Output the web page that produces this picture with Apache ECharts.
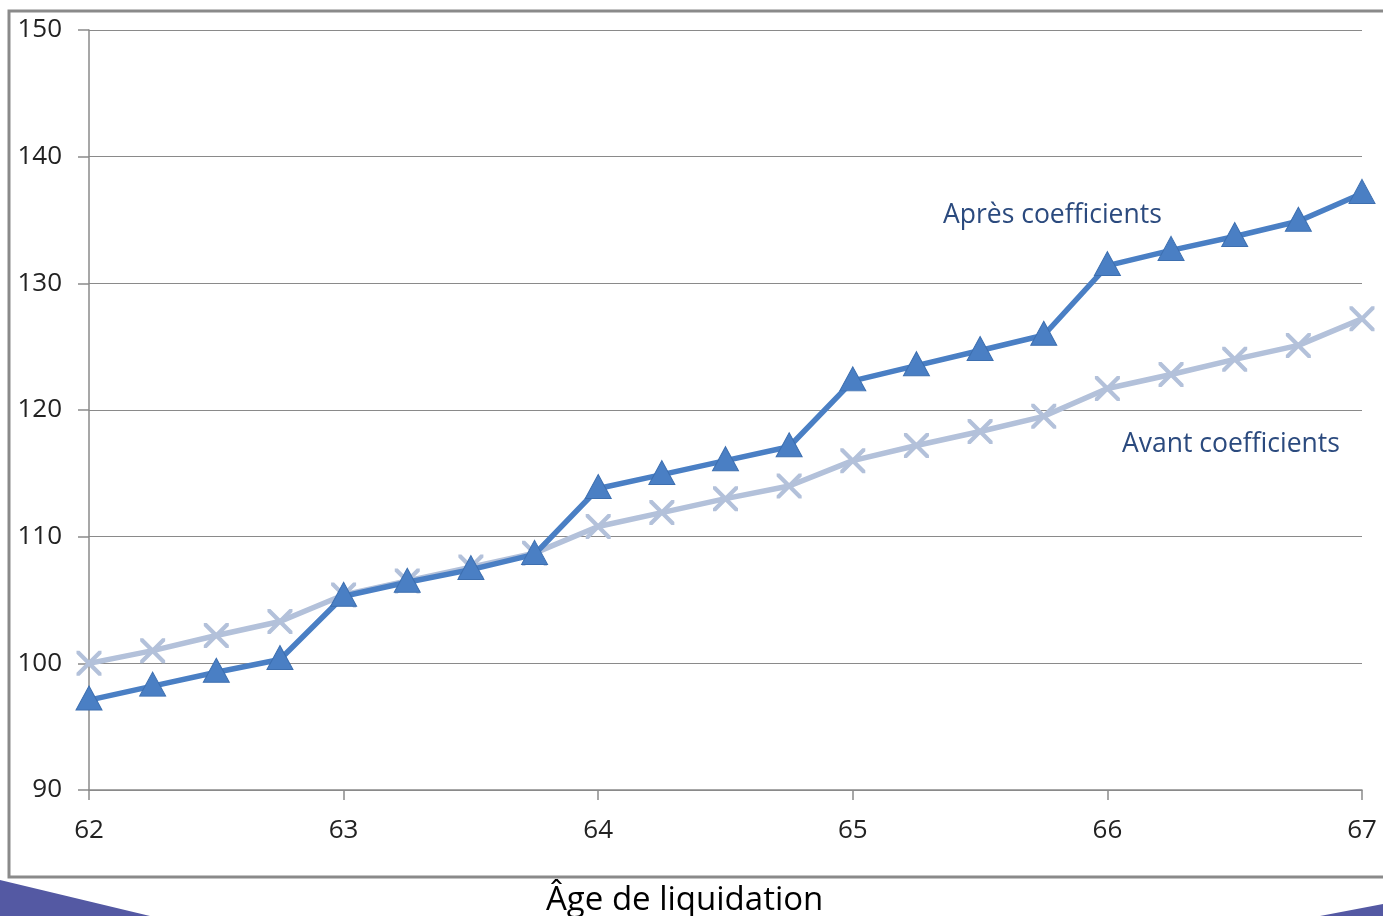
<!DOCTYPE html>
<html>
<head>
<meta charset="utf-8">
<script src="https://cdn.jsdelivr.net/npm/echarts@6/dist/echarts.min.js"></script>
<style>
  html, body { margin: 0; padding: 0; background: #fff; }
  #main { width: 1383px; height: 916px; }
</style>
</head>
<body>
<div id="main"></div>
<script>
// ages (quarterly steps)
var ages = [62, 62.25, 62.5, 62.75, 63, 63.25, 63.5, 63.75, 64, 64.25, 64.5, 64.75,
            65, 65.25, 65.5, 65.75, 66, 66.25, 66.5, 66.75, 67];
// after coefficients
var apres = [97.1, 98.2, 99.3, 100.3, 105.3, 106.4, 107.4, 108.6, 113.8, 114.9, 116.0, 117.1,
             122.3, 123.5, 124.7, 125.9, 131.4, 132.6, 133.7, 134.9, 137.1];
// before coefficients
var avant = [100.0, 101.0, 102.2, 103.3, 105.4, 106.5, 107.6, 108.7, 110.8, 111.9, 113.0, 114.0,
             116.0, 117.2, 118.3, 119.5, 121.7, 122.8, 124.0, 125.1, 127.2];

var xTitle = 'Âge de liquidation';
var nameApres = 'Après coefficients';
var nameAvant = 'Avant coefficients';

function pairs(xs, ys) {
    var list = [];
    for (var i = 0; i < xs.length; i++) {
        list.push([xs[i], ys[i]]);
    }
    return list;
}

var crossPath = 'path://M0,0L1.2,0L5,3.8L8.8,0L10,0L10,1.2L6.2,5L10,8.8L10,10L8.8,10L5,6.2L1.2,10L0,10L0,8.8L3.8,5L0,1.2Z';

var chart = echarts.init(document.getElementById('main'), null, { renderer: 'canvas' });

var option = {
    backgroundColor: '#ffffff',
    animation: false,
    textStyle: { fontFamily: 'Open Sans' },
    grid: { left: 89, right: 21, top: 30, bottom: 126, containLabel: false },
    xAxis: {
        type: 'value',
        min: 62,
        max: 67,
        interval: 1,
        axisLine: { show: true, lineStyle: { color: '#8a8a8a', width: 1.5 } },
        axisTick: { show: true, length: 10, lineStyle: { color: '#8a8a8a', width: 1.5 } },
        axisLabel: { color: '#222', fontSize: 26, margin: 28 },
        splitLine: { show: false }
    },
    yAxis: {
        type: 'value',
        min: 90,
        max: 150,
        interval: 10,
        axisLine: { show: true, lineStyle: { color: '#8a8a8a', width: 1.5 } },
        axisTick: { show: true, length: 11, lineStyle: { color: '#8a8a8a', width: 1.5 } },
        axisLabel: { color: '#222', fontSize: 26, margin: 27 },
        splitLine: { show: true, lineStyle: { color: '#8a8a8a', width: 1.2 } }
    },
    graphic: [
        { type: 'rect', shape: { x: 9, y: 11, width: 1390, height: 866 },
          style: { fill: 'none', stroke: '#8a8a8a', lineWidth: 3 }, z: -1 },
        { type: 'polygon', shape: { points: [[0, 880], [150, 916], [0, 916]] },
          style: { fill: '#5459a3' } },
        { type: 'polygon', shape: { points: [[1320, 916], [1383, 904], [1383, 916]] },
          style: { fill: '#5459a3' } },
        { type: 'text', left: 943, top: 202,
          style: { text: nameApres, fill: '#2b4a7e', font: '26.5px "Open Sans"' } },
        { type: 'text', left: 1122, top: 431,
          style: { text: nameAvant, fill: '#2b4a7e', font: '26.5px "Open Sans"' } },
        { type: 'text', left: 546, top: 884,
          style: { text: xTitle, fill: '#000', font: '33px "Open Sans"' } }
    ],
    series: [
        {
            name: nameAvant,
            type: 'line',
            data: pairs(ages, avant),
            symbol: crossPath,
            symbolSize: 25,
            lineStyle: { color: '#b3c1da', width: 5.5 },
            itemStyle: { color: '#b3c1da' },
            z: 2
        },
        {
            name: nameApres,
            type: 'line',
            data: pairs(ages, apres),
            symbol: 'triangle',
            symbolSize: [26, 24],
            symbolOffset: [0, -2],
            lineStyle: { color: '#4a7fc4', width: 5.5 },
            itemStyle: { color: '#4a7fc4', borderColor: '#3d6fb0', borderWidth: 1 },
            z: 3
        }
    ]
};

chart.setOption(option);
</script>
</body>
</html>
